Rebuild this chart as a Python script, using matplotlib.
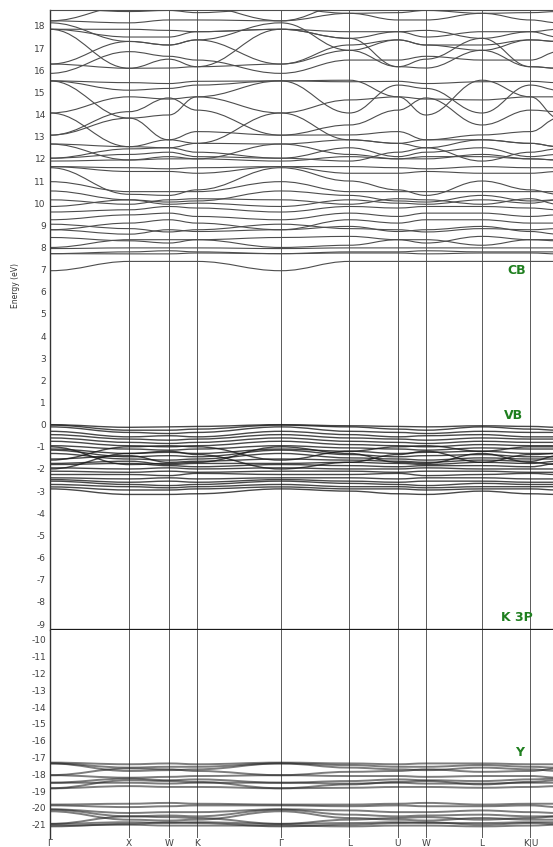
import numpy as np
import matplotlib.pyplot as plt
from matplotlib.path import Path
from matplotlib.patches import PathPatch

# k-path through the fcc Brillouin zone (distances in 2*pi/a)
k_labels = ['Γ', 'X', 'W', 'K', 'Γ', 'L', 'U', 'W', 'L', 'K|U', 'X']
k_dist = [0.0, 1.0, 1.5, 1.854, 2.914, 3.780, 4.393, 4.746, 5.453, 6.066, 6.419]
# which symmetry point each path node is (U is equivalent to K)
node_point = [0, 1, 2, 3, 0, 4, 3, 2, 4, 3, 1]

# band energies (eV) at Γ, X, W, K, L
conduction = [
    (6.95, 7.37, 7.37, 7.37, 7.37),
    (7.72, 7.71, 7.71, 7.75, 7.75),
    (7.72, 7.80, 7.85, 7.80, 7.80),
    (7.95, 7.98, 7.98, 7.98, 7.98),
    (8.00, 8.35, 8.35, 8.35, 8.10),
    (8.45, 8.30, 8.20, 8.35, 8.50),
    (8.80, 8.60, 8.80, 8.72, 8.95),
    (8.80, 9.10, 9.25, 9.10, 9.25),
    (9.05, 8.85, 8.70, 8.80, 8.85),
    (9.25, 9.47, 9.55, 9.40, 9.55),
    (9.60, 9.70, 9.85, 9.78, 9.85),
    (9.85, 10.15, 9.95, 10.00, 10.15),
    (10.15, 9.95, 10.15, 10.20, 9.95),
    (10.55, 10.15, 10.05, 10.10, 10.35),
    (10.97, 10.52, 10.52, 10.52, 10.52),
    (11.60, 10.40, 10.35, 10.60, 11.00),
    (11.65, 11.43, 11.43, 11.35, 11.35),
    (11.65, 11.60, 11.55, 11.60, 11.65),
    (11.90, 11.95, 12.10, 12.00, 12.10),
    (12.03, 12.20, 12.30, 12.10, 12.50),
    (12.03, 12.45, 12.50, 12.30, 11.90),
    (12.67, 11.95, 12.00, 12.00, 12.20),
    (12.67, 12.55, 12.86, 12.70, 12.86),
    (13.07, 14.13, 14.75, 14.20, 13.53),
    (13.07, 13.84, 12.86, 13.23, 13.08),
    (14.07, 12.55, 12.50, 12.70, 12.86),
    (14.07, 14.80, 14.70, 14.80, 14.66),
    (15.52, 15.10, 15.18, 15.33, 14.07),
    (15.52, 15.44, 15.40, 15.50, 15.48),
    (15.52, 13.84, 13.98, 14.80, 15.55),
    (15.86, 16.84, 16.63, 16.46, 16.46),
    (16.28, 16.09, 16.10, 16.16, 16.90),
    (16.28, 17.30, 17.14, 17.37, 17.14),
    (17.85, 16.09, 16.50, 16.16, 17.44),
    (17.85, 17.50, 17.50, 17.74, 17.74),
    (17.85, 17.85, 17.80, 17.74, 17.44),
    (18.14, 17.30, 17.14, 17.37, 16.90),
    (18.23, 18.14, 18.27, 18.27, 18.57),
    (18.80, 18.65, 18.70, 18.60, 18.57),
    (18.23, 18.90, 18.90, 18.90, 19.00),
]

valence = [
    (0.00, -0.12, -0.10, -0.08, -0.05),
    (-0.02, -0.25, -0.25, -0.20, -0.10),
    (-0.10, -0.35, -0.40, -0.35, -0.30),
    (-0.30, -0.55, -0.50, -0.55, -0.45),
    (-0.45, -0.65, -0.70, -0.65, -0.60),
    (-0.60, -0.80, -0.85, -0.80, -0.75),
    (-0.75, -0.95, -1.00, -0.95, -0.90),
    (-0.95, -1.10, -1.15, -1.10, -1.05),
    (-1.10, -1.30, -1.25, -1.30, -1.20),
    (-1.15, -1.45, -1.40, -1.45, -1.35),
    (-1.30, -1.55, -1.60, -1.55, -1.50),
    (-1.55, -1.40, -1.70, -1.65, -1.60),
    (-1.75, -1.65, -1.80, -1.75, -1.70),
    (-1.80, -1.75, -1.85, -1.90, -1.85),
    (-1.95, -2.00, -1.95, -2.00, -2.00),
    (-2.10, -2.15, -2.10, -2.15, -2.10),
    (-2.25, -2.25, -2.30, -2.20, -2.25),
    (-2.40, -2.45, -2.40, -2.45, -2.40),
    (-2.48, -2.60, -2.55, -2.60, -2.55),
    (-2.55, -2.70, -2.75, -2.70, -2.65),
    (-2.70, -2.80, -2.85, -2.80, -2.80),
    (-2.81, -2.95, -2.95, -2.90, -2.90),
    (-2.90, -3.15, -3.15, -3.12, -3.00),
    (-1.00, -1.80, -1.75, -1.70, -1.30),
    (-2.00, -1.30, -1.20, -1.35, -1.70),
    (-1.60, -1.00, -0.95, -1.00, -1.20),
]

# K 3p semicore level
k3p = [(-9.25, -9.25, -9.25, -9.25, -9.25)]

# Y 4p semicore bands
y4p = [
    (-17.30, -17.40, -17.35, -17.40, -17.35),
    (-17.35, -17.60, -17.55, -17.55, -17.45),
    (-17.35, -17.80, -17.75, -17.70, -17.60),
    (-18.05, -17.65, -17.70, -17.80, -17.85),
    (-18.05, -18.20, -18.15, -18.10, -18.10),
    (-18.50, -18.25, -18.35, -18.30, -18.40),
    (-18.50, -18.50, -18.55, -18.50, -18.55),
    (-18.83, -18.35, -18.40, -18.45, -18.60),
    (-18.83, -18.70, -18.75, -18.75, -18.80),
    (-19.80, -19.75, -19.70, -19.75, -19.80),
    (-19.85, -19.95, -19.90, -19.85, -19.90),
    (-20.08, -20.30, -20.25, -20.25, -20.15),
    (-20.10, -20.50, -20.45, -20.50, -20.40),
    (-20.20, -20.70, -20.75, -20.70, -20.60),
    (-20.95, -20.50, -20.55, -20.60, -20.70),
    (-20.95, -20.85, -20.90, -20.85, -20.90),
    (-21.05, -21.00, -21.05, -21.05, -21.10),
    (-21.10, -20.95, -20.85, -20.90, -21.00),
]


def band_path(vals):
    # smooth curve with flat slope at each symmetry point
    e = [vals[i] for i in node_point]
    verts = [(k_dist[0], e[0])]
    codes = [Path.MOVETO]
    for i in range(len(k_dist) - 1):
        x0, x1 = k_dist[i], k_dist[i + 1]
        dx = x1 - x0
        verts += [(x0 + 0.4 * dx, e[i]), (x1 - 0.4 * dx, e[i + 1]), (x1, e[i + 1])]
        codes += [Path.CURVE4] * 3
    return Path(verts, codes)


def draw_bands(ax, bands, color, lw, alpha=1.0):
    for b in bands:
        ax.add_patch(PathPatch(band_path(b), fill=False, edgecolor=color,
                               lw=lw, alpha=alpha, capstyle='butt'))


W, H = 553, 847
fig = plt.figure(figsize=(W / 100, H / 100), dpi=100)
xmax = (W - 50) / 79.2

ax_top = fig.add_axes([50 / W, (H - 630) / H, (W - 50) / W, 620 / H])
ax_bot = fig.add_axes([50 / W, (H - 838) / H, (W - 50) / W, 208 / H])

for ax in (ax_top, ax_bot):
    for k in k_dist[1:-1]:
        ax.axvline(k, color='0.35', lw=0.7, zorder=1)
    ax.spines['right'].set_visible(False)
    ax.spines['left'].set_color('0.2')
    ax.spines['left'].set_linewidth(1.0)
    ax.tick_params(length=0, labelsize=6.5, labelcolor='0.25', pad=3)

draw_bands(ax_top, conduction, '0.3', 0.8)
draw_bands(ax_top, valence, '0.1', 1.0, 0.8)
draw_bands(ax_top, k3p, '0.1', 1.0)
draw_bands(ax_bot, y4p, '0.15', 1.4, 0.6)

top_ticks = list(range(-9, 19))
ax_top.set_yticks(top_ticks, [str(t) for t in top_ticks])
ax_top.set_xticks([])
ax_top.spines['bottom'].set_visible(False)
ax_top.spines['top'].set_color('0.3')

bot_ticks = list(range(-21, -9))
ax_bot.set_yticks(bot_ticks, [str(t) for t in bot_ticks])
ax_bot.set_xticks(k_dist[:-1], k_labels[:-1])
ax_bot.tick_params(axis='x', pad=1)
ax_bot.spines['top'].set_visible(False)
ax_bot.spines['bottom'].set_visible(False)

# limits last, so tick setting cannot widen them
for ax in (ax_top, ax_bot):
    ax.set_xlim(0, xmax)
ax_top.set_ylim(-9.27, 18.72)
ax_bot.set_ylim(-21.79, -9.405)

fig.text(15 / W, 1 - 285 / H, 'Energy (eV)', rotation=90, fontsize=5.5,
         color='0.2', ha='center', va='center')

# region labels
green = '#1f7f1f'
for txt, x, y in [('CB', 517, 270), ('VB', 513, 415), ('K 3P', 517, 617), ('Y', 520, 752)]:
    fig.text(x / W, 1 - y / H, txt, fontsize=9, fontweight='bold', color=green,
             ha='center', va='center')

fig.savefig('out.png', dpi=100)
